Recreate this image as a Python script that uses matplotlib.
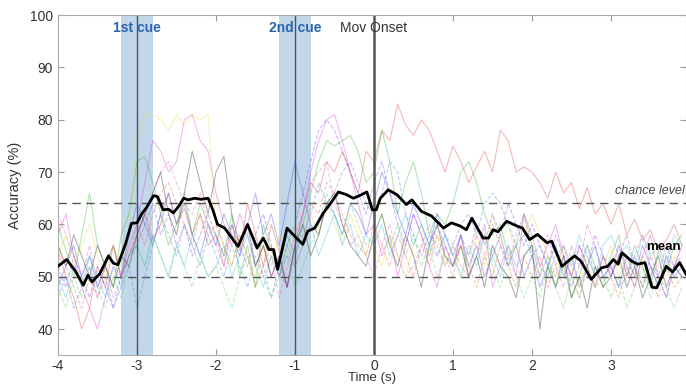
import matplotlib

matplotlib.use("Agg")
import matplotlib.pyplot as plt
import numpy as np

plt.rcParams["font.family"] = ["Liberation Sans", "DejaVu Sans"]
plt.rcParams["axes.unicode_minus"] = False

# mean decoding accuracy
mean_t = [-4.0, -3.89, -3.78, -3.68, -3.62, -3.57, -3.47, -3.36, -3.3, -3.24,
          -3.14, -3.07, -3.0, -2.94, -2.88, -2.79, -2.74, -2.67, -2.6, -2.54,
          -2.47, -2.41, -2.35, -2.27, -2.19, -2.1, -2.04, -1.98, -1.89, -1.72,
          -1.6, -1.48, -1.4, -1.33, -1.27, -1.22, -1.1, -1.0, -0.9, -0.84,
          -0.75, -0.64, -0.56, -0.45, -0.35, -0.26, -0.17, -0.09, -0.02, 0.03,
          0.08, 0.18, 0.29, 0.41, 0.48, 0.6, 0.73, 0.88, 0.98, 1.09,
          1.17, 1.24, 1.38, 1.45, 1.51, 1.57, 1.68, 1.81, 1.88, 1.97,
          2.07, 2.19, 2.25, 2.38, 2.54, 2.62, 2.75, 2.88, 2.96, 3.03,
          3.09, 3.14, 3.26, 3.34, 3.43, 3.52, 3.58, 3.7, 3.78, 3.87, 3.95]
mean_acc = [52.0, 53.3, 51.1, 48.4, 50.3, 49.0, 50.6, 54.0, 52.6, 52.3,
            56.5, 60.2, 60.3, 62.0, 63.2, 65.5, 65.3, 62.8, 62.9, 62.2,
            63.5, 65.0, 64.7, 65.0, 64.8, 65.0, 62.8, 60.0, 59.3, 55.8,
            60.0, 55.5, 57.4, 55.2, 55.2, 51.4, 59.3, 57.7, 56.2, 58.7,
            59.3, 62.2, 63.8, 66.2, 65.7, 65.0, 65.6, 66.2, 62.8, 62.8,
            65.0, 66.6, 65.7, 63.8, 64.7, 62.5, 61.6, 59.3, 60.3, 59.7,
            59.0, 61.2, 57.4, 57.4, 59.0, 58.6, 60.6, 59.7, 59.3, 57.1,
            58.1, 56.5, 56.8, 52.0, 54.0, 53.0, 49.5, 51.7, 52.0, 53.3,
            52.4, 54.6, 53.0, 52.4, 52.7, 48.0, 47.9, 52.0, 50.9, 52.7, 50.5]

# individual subjects, sampled every 0.1 s from -4.0 to 3.9
subj_t = np.round(np.arange(-4.0, 3.95, 0.1), 2)

s_red = [55, 50, 46, 40, 44, 52, 48, 56, 50, 54, 58, 62, 57, 60, 66, 60, 63, 58, 62, 56,
         58, 52, 60, 55, 64, 58, 52, 60, 55, 48, 56, 62, 68, 66, 72, 70, 74, 70, 66, 74,
         72, 78, 76, 83, 79, 77, 80, 78, 74, 70, 75, 72, 68, 71, 74, 70, 78, 76, 70, 71,
         70, 68, 65, 70, 66, 68, 63, 67, 62, 64, 60, 64, 58, 61, 57, 59, 55, 57, 60, 56]
s_green = [60, 55, 50, 58, 66, 56, 52, 48, 58, 62, 72, 73, 68, 62, 56, 60, 66, 58, 64, 60,
           58, 54, 62, 50, 56, 48, 60, 55, 52, 58, 54, 60, 66, 72, 76, 75, 76, 77, 74, 68,
           70, 78, 72, 62, 68, 72, 66, 58, 62, 60, 64, 70, 72, 68, 62, 58, 60, 54, 56, 62,
           56, 50, 54, 48, 52, 46, 50, 56, 52, 48, 54, 58, 50, 56, 52, 48, 55, 51, 56, 58]
s_magenta = [58, 62, 54, 48, 44, 40, 46, 52, 50, 56, 60, 68, 76, 74, 70, 72, 80, 81, 76, 74,
             66, 60, 56, 62, 58, 52, 56, 50, 54, 48, 56, 62, 70, 76, 80, 81, 76, 70, 64, 58,
             60, 54, 58, 50, 56, 62, 58, 52, 48, 56, 52, 58, 50, 54, 60, 48, 52, 56, 50, 62,
             58, 52, 56, 60, 54, 50, 56, 52, 48, 54, 50, 56, 52, 48, 54, 58, 50, 46, 52, 56]
s_magenta_d = [62, 58, 54, 50, 56, 48, 52, 46, 50, 54, 58, 62, 66, 70, 72, 68, 64, 62, 66, 60,
               56, 52, 58, 54, 60, 56, 50, 54, 46, 52, 58, 62, 68, 70, 72, 64, 60, 56, 58, 54,
               50, 56, 60, 54, 50, 52, 56, 60, 54, 58, 56, 52, 50, 58, 54, 60, 56, 52, 58, 62,
               54, 50, 58, 52, 48, 56, 52, 60, 56, 50, 52, 56, 50, 54, 58, 52, 48, 54, 52, 56]
s_purple_d = [52, 48, 54, 50, 46, 52, 48, 44, 50, 54, 56, 60, 64, 58, 62, 56, 60, 54, 58, 62,
              58, 54, 60, 56, 52, 58, 62, 56, 50, 56, 60, 66, 72, 78, 80, 78, 74, 70, 66, 62,
              68, 72, 66, 60, 56, 62, 58, 54, 60, 56, 52, 58, 54, 60, 56, 62, 58, 64, 60, 56,
              60, 56, 52, 58, 54, 50, 56, 52, 58, 54, 50, 54, 58, 52, 48, 54, 50, 56, 52, 54]
s_blue = [48, 52, 56, 50, 54, 48, 52, 56, 50, 58, 64, 60, 56, 62, 66, 60, 64, 58, 54, 60,
          56, 62, 58, 54, 60, 66, 58, 62, 56, 64, 72, 66, 60, 58, 64, 62, 58, 64, 62, 58,
          64, 70, 66, 62, 58, 64, 60, 56, 62, 58, 54, 58, 52, 56, 50, 54, 58, 52, 56, 50,
          54, 48, 52, 56, 50, 54, 48, 52, 56, 50, 52, 48, 54, 50, 56, 52, 48, 54, 50, 52]
s_blue_d = [46, 50, 44, 48, 52, 46, 50, 44, 48, 52, 44, 50, 56, 62, 58, 54, 60, 56, 52, 58,
            54, 50, 56, 52, 48, 54, 50, 46, 52, 48, 54, 58, 62, 68, 64, 66, 70, 72, 68, 64,
            62, 66, 72, 70, 62, 58, 54, 58, 56, 52, 56, 60, 62, 58, 64, 66, 64, 60, 56, 58,
            54, 56, 52, 50, 54, 48, 52, 56, 50, 54, 52, 48, 50, 54, 48, 52, 50, 46, 52, 50]
s_yellow = [54, 58, 52, 56, 60, 54, 50, 56, 52, 58, 76, 81, 81, 80, 78, 81, 79, 81, 80, 81,
            60, 56, 52, 58, 54, 50, 56, 52, 58, 54, 60, 56, 62, 58, 64, 60, 56, 62, 58, 54,
            56, 52, 58, 54, 50, 56, 60, 54, 58, 52, 56, 50, 54, 58, 52, 62, 56, 60, 54, 58,
            62, 58, 54, 50, 56, 52, 48, 54, 50, 52, 56, 50, 54, 52, 48, 56, 52, 50, 54, 52]
s_cyan = [50, 46, 52, 48, 54, 50, 46, 52, 48, 54, 56, 52, 58, 54, 50, 56, 52, 58, 54, 50,
          52, 56, 50, 54, 58, 52, 48, 54, 50, 56, 52, 56, 60, 54, 58, 62, 56, 60, 54, 58,
          56, 60, 54, 58, 62, 56, 60, 56, 54, 58, 54, 50, 56, 52, 58, 54, 50, 56, 52, 54,
          56, 52, 50, 54, 56, 52, 58, 54, 50, 56, 58, 54, 56, 52, 58, 54, 56, 52, 58, 56]
s_black = [56, 52, 58, 54, 50, 56, 52, 48, 54, 52, 58, 62, 66, 70, 62, 58, 66, 74, 68, 62,
           70, 73, 62, 56, 60, 52, 56, 50, 54, 48, 56, 60, 54, 58, 64, 66, 60, 56, 54, 52,
           58, 62, 56, 52, 58, 54, 48, 56, 60, 54, 52, 56, 50, 54, 48, 56, 52, 50, 46, 54,
           56, 40, 52, 48, 54, 46, 50, 44, 52, 48, 50, 54, 48, 52, 46, 50, 54, 48, 52, 50]
s_green_d = [48, 44, 50, 46, 52, 48, 44, 50, 46, 52, 56, 52, 58, 54, 50, 56, 52, 48, 54, 50,
             52, 48, 44, 50, 54, 48, 52, 46, 50, 54, 48, 52, 56, 60, 66, 62, 58, 64, 60, 56,
             58, 62, 56, 60, 54, 58, 52, 56, 50, 54, 52, 56, 50, 54, 58, 52, 48, 54, 50, 46,
             50, 46, 52, 48, 44, 50, 46, 52, 48, 50, 46, 50, 44, 48, 52, 46, 50, 48, 44, 48]
s_red_d = [56, 52, 48, 44, 50, 46, 52, 56, 50, 54, 60, 56, 62, 66, 68, 64, 60, 56, 62, 58,
           60, 56, 52, 58, 54, 48, 52, 56, 50, 54, 52, 56, 64, 62, 68, 66, 62, 58, 56, 54,
           60, 56, 52, 58, 54, 50, 56, 52, 58, 54, 50, 56, 52, 48, 54, 50, 56, 52, 48, 54,
           50, 54, 48, 52, 56, 50, 46, 52, 48, 54, 50, 46, 52, 48, 54, 50, 46, 52, 48, 50]

subjects = [
    (s_red, "#e04a4a", "-"),
    (s_green, "#3cb83c", "-"),
    (s_magenta, "#d84ad8", "-"),
    (s_magenta_d, "#e060c0", "--"),
    (s_purple_d, "#7a4ae0", "--"),
    (s_blue, "#4a5ae0", "-"),
    (s_blue_d, "#5a7ae0", "--"),
    (s_yellow, "#e6e04a", "-"),
    (s_cyan, "#4ac0e0", "-"),
    (s_black, "#303030", "-"),
    (s_green_d, "#5ad05a", "--"),
    (s_red_d, "#e07050", "--"),
]

cue_windows = [(-3.2, -2.8), (-1.2, -0.8)]

fig = plt.figure(figsize=(6.86, 3.87), dpi=100)
ax = fig.add_axes([0.0845, 0.082, 0.9155, 0.879])

for lo, hi in cue_windows:
    ax.axvspan(lo, hi, color="#c2d7e9", lw=0, zorder=0)

for vals, col, ls in subjects:
    ax.plot(subj_t, vals, color=col, ls=ls, lw=0.8, alpha=0.38, zorder=1)

ax.axhline(64, color="#555555", lw=1.0, ls=(0, (6, 4)), zorder=2)
ax.axhline(50, color="#555555", lw=1.0, ls=(0, (6, 4)), zorder=2)

ax.axvline(-3, color="#4a5560", lw=1.0, zorder=2)
ax.axvline(-1, color="#4a5560", lw=1.0, zorder=2)
ax.axvline(0, color="#555555", lw=1.8, zorder=2)

ax.plot(mean_t, mean_acc, color="black", lw=2.0, zorder=3)

ax.text(-3, 97.5, "1st cue", color="#2a65ad", fontsize=10, fontweight="bold",
        ha="center", va="center")
ax.text(-1, 97.5, "2nd cue", color="#2a65ad", fontsize=10, fontweight="bold",
        ha="center", va="center")
ax.text(0, 97.5, "Mov Onset", color="#333333", fontsize=10, ha="center", va="center")
ax.text(3.93, 65.2, "chance level", color="#444444", fontsize=9, style="italic",
        ha="right", va="bottom")
ax.text(3.88, 55.6, "mean", color="black", fontsize=9.5, fontweight="bold",
        ha="right", va="center")

ax.set_xlim(-4, 3.95)
ax.set_ylim(35, 100)
ax.set_xticks([-4, -3, -2, -1, 0, 1, 2, 3])
ax.set_yticks([40, 50, 60, 70, 80, 90, 100])
ax.tick_params(direction="in", length=4, color="#999999", labelcolor="#333333",
               labelsize=10, top=True, right=True)
ax.tick_params(axis="x", pad=3)
for side in ["left", "bottom", "top", "right"]:
    ax.spines[side].set_color("#aaaaaa")
    ax.spines[side].set_linewidth(0.8)
ax.set_xlabel("Time (s)", fontsize=9.5, color="#333333", labelpad=-1)
ax.set_ylabel("Accuracy (%)", fontsize=10.5, color="#333333", labelpad=6)

fig.savefig("out.png", dpi=100)
